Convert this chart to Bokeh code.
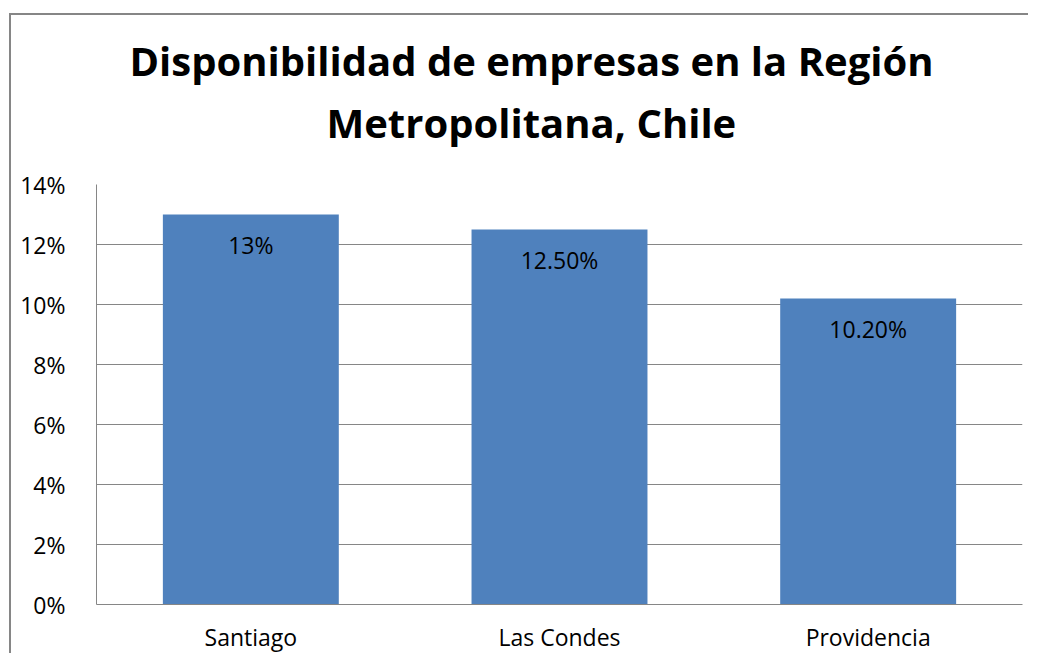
from bokeh.plotting import figure
from bokeh.models import ColumnDataSource, LabelSet, Title, NumeralTickFormatter, SingleIntervalTicker, Range1d
from bokeh.core.properties import value
from bokeh.embed import file_html
from bokeh.resources import INLINE

categories = ["Santiago", "Las Condes", "Providencia"]
values = [0.13, 0.125, 0.102]
value_labels = ["13%", "12.50%", "10.20%"]
title_lines = ["Disponibilidad de empresas en la Región", "Metropolitana, Chile"]

FONT = "Open Sans"
GRAY = "#868686"

W, H = 1019, 640
p = figure(x_range=categories, width=W, height=H, output_backend="svg",
           toolbar_location=None, min_border_left=85, min_border_right=8,
           min_border_top=169, min_border_bottom=20)
p.y_range = Range1d(0, 0.14)
p.x_range.range_padding = 0

src = ColumnDataSource(dict(cat=categories, val=values, lab=value_labels))
p.vbar(x="cat", top="val", width=0.57, source=src, fill_color="#4F81BD", line_color=None)

p.add_layout(LabelSet(x="cat", y="val", text="lab", source=src, y_offset=-30,
                      text_align="center", text_baseline="middle",
                      text_font=value(FONT), text_font_size="23px", text_color="black"))

p.yaxis.ticker = SingleIntervalTicker(interval=0.02)
p.yaxis.formatter = NumeralTickFormatter(format="0%")
for ax in (p.xaxis[0], p.yaxis[0]):
    ax.axis_line_color = GRAY
    ax.axis_line_width = 1
    ax.major_tick_line_color = None
    ax.minor_tick_line_color = None
    ax.major_label_text_font = FONT
    ax.major_label_text_font_size = "23px"
    ax.major_label_text_color = "black"
p.yaxis.major_label_standoff = 25
p.xaxis.major_label_standoff = 10

p.xgrid.grid_line_color = None
p.ygrid.grid_line_color = GRAY
p.ygrid.grid_line_width = 1
p.outline_line_color = None

# later-added titles stack further from the frame, so add line 2 first
p.add_layout(Title(text=title_lines[1], align="left", offset=230, standoff=69,
                   text_font=FONT, text_font_style="bold", text_font_size="40px",
                   text_color="black"), "above")
p.add_layout(Title(text=title_lines[0], align="left", offset=33, standoff=-58,
                   text_font=FONT, text_font_style="bold", text_font_size="40px",
                   text_color="black"), "above")

p.styles = {"border-left": f"2px solid {GRAY}", "border-top": f"2px solid {GRAY}",
            "margin-left": "9px", "margin-top": "13px"}

open("out.html", "w").write(file_html(p, INLINE))
